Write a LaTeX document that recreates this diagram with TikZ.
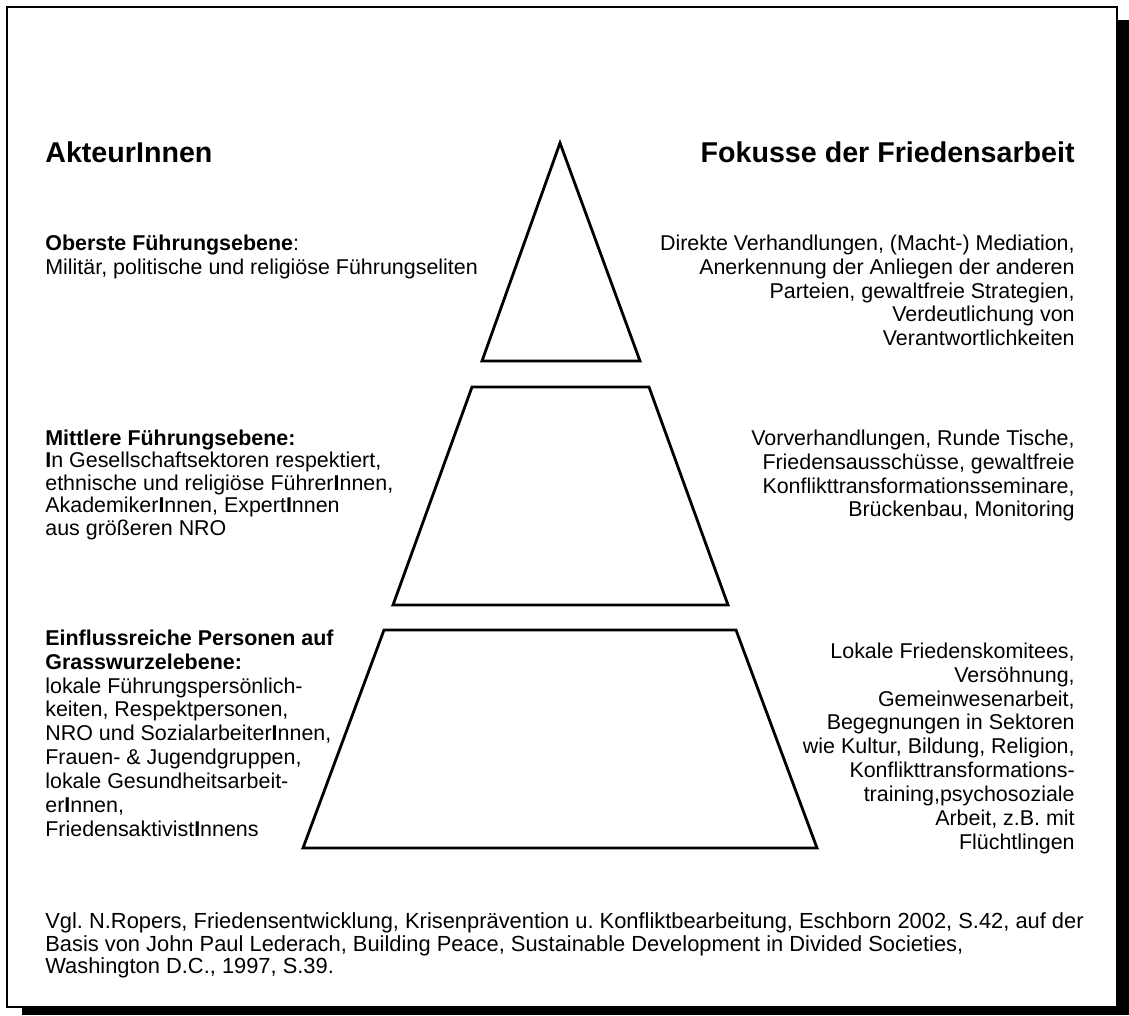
\documentclass[tikz,border=0pt]{standalone}
\usepackage{fontspec}
\setmainfont{Liberation Sans}
\newcommand{\BI}{\textbf{I}}
\frenchspacing

\begin{document}
\begin{tikzpicture}[x=0.02cm,y=-0.02cm,
  txt/.style={inner sep=0pt,font=\fontsize{12.2}{13.6}\selectfont},
  head/.style={inner sep=0pt,font=\fontsize{16.3}{19}\selectfont\bfseries},
  level/.style={draw,line width=1.6pt,line join=miter}]
\useasboundingbox (0,0) rectangle (1129,1015);
\fill[black] (22,20) rectangle (1129,1015);
\draw[fill=white,line width=1.1pt] (7,7) rectangle (1117,1007);

\draw[level] (560,143) coordinate (top) -- (640,361) -- (482,361) -- cycle;
\foreach \tl/\tr/\bl/\br/\t/\b [count=\n] in {472/649/393/728/387/605,384/736/303/817/630/848}
  \draw[level] (\tl,\t) coordinate (T\n) -- (\tr,\t) -- (\br,\b) -- (\bl,\b) -- cycle;

\node[head,anchor=base west] (akt) at (45,162) {Akteur\BI nnen};
\node[head,anchor=base east] (fok) at (1075,162) {Fokusse der Friedensarbeit};

\node[txt,anchor=north west,align=left] (L1) at (45,234.4) {\textbf{Oberste Führungsebene}:\\Militär, politische und religiöse Führungseliten};
\node[txt,anchor=north west,align=left,font=\fontsize{12.2}{12.8}\selectfont] (L2) at (45,429.4) {\textbf{Mittlere Führungsebene:}\\\BI n Gesellschaftsektoren respektiert,\\ethnische und religiöse Führer\BI nnen,\\Akademiker\BI nnen, Expert\BI nnen\\aus größeren NRO};
\node[txt,anchor=north west,align=left] (L3) at (45,629.4) {\textbf{Einflussreiche Personen auf}\\\textbf{Grasswurzelebene:}\\lokale Führungspersönlich-\\keiten, Respektpersonen,\\NRO und Sozialarbeiter\BI nnen,\\Frauen- \& Jugendgruppen,\\lokale Gesundheitsarbeit-\\er\BI nnen,\\Friedensaktivist\BI nnens};

\node[txt,anchor=north east,align=right] (R1) at (1075,234.4) {Direkte Verhandlungen, (Macht-) Mediation,\\Anerkennung der Anliegen der anderen\\Parteien, gewaltfreie Strategien,\\Verdeutlichung von\\Verantwortlichkeiten};
\node[txt,anchor=north east,align=right] (R2) at (1075,429.4) {Vorverhandlungen, Runde Tische,\\Friedensausschüsse, gewaltfreie\\Konflikttransformationsseminare,\\Brückenbau, Monitoring};
\node[txt,anchor=north east,align=right] (R3) at (1075,642.4) {Lokale Friedenskomitees,\\Versöhnung,\\Gemeinwesenarbeit,\\Begegnungen in Sektoren\\wie Kultur, Bildung, Religion,\\Konflikttransformations-\\training,psychosoziale\\Arbeit, z.B. mit\\Flüchtlingen};

\node[txt,anchor=north west,align=left,font=\fontsize{12.45}{12.8}\selectfont] (note) at (45,912.4) {Vgl. N.Ropers, Friedensentwicklung, Krisenprävention u. Konfliktbearbeitung, Eschborn 2002, S.42, auf der\\Basis von John Paul Lederach, Building Peace, Sustainable Development in Divided Societies,\\Washington D.C., 1997, S.39.};
\end{tikzpicture}
\end{document}
